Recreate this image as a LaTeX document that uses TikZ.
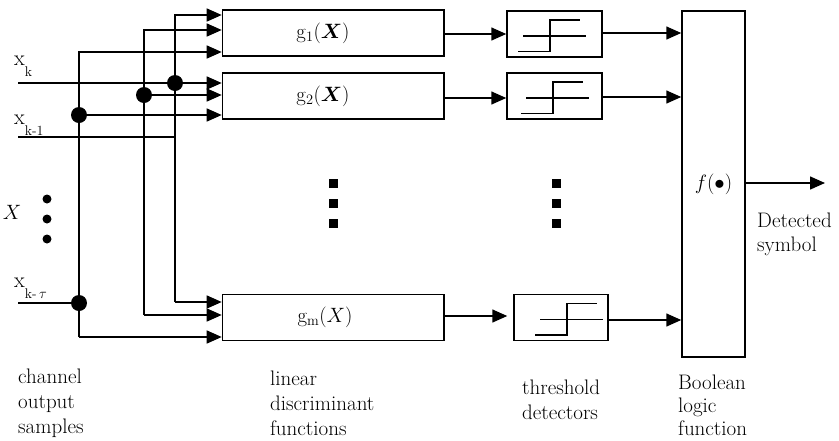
\documentclass[tikz,border=0pt]{standalone}
\usepackage{amsmath}
\usetikzlibrary{arrows.meta}

% subscripted sample label: a large x with a dropped, smaller index
\newcommand\samplelbl[1]{x\raisebox{-11pt}{\fontsize{14}{14}\selectfont #1}}

\begin{document}
\begin{tikzpicture}[x=1pt,y=-1pt,
  wire/.style={line width=1.5pt},
  arr/.style={wire,-{Triangle[length=15pt,width=13pt]}},
  blk/.style={draw,line width=1.5pt,minimum height=46pt,inner sep=0pt},
  gbox/.style={blk,minimum width=221.5pt},
  tbox/.style={blk,minimum width=95pt},
  junc/.style={circle,fill,inner sep=0pt,minimum size=16pt},
  lbl/.style={font=\fontsize{20}{25}\selectfont,inner sep=0pt},
  captext/.style={font=\fontsize{21}{25}\selectfont,inner sep=0pt,align=left,anchor=west},
  stepfn/.pic={
    \draw[line width=1.4pt] (-32,17.5) -- (0,17.5) -- (0,-14) -- (30,-14);
    \draw[line width=1.4pt] (-27,2) -- (36,2);
  }
]
\fill[white] (0,0) rectangle (839,440);
\useasboundingbox (0,0) rectangle (839,440);

% discriminant blocks
\node[gbox] (g1) at (333.2,33) {};
\node[gbox] (g2) at (333.2,96) {};
\node[gbox] (gm) at (333.2,317.5) {};
\node[lbl] (g1t) at (323,33) {$\mathrm{g}_1(\boldsymbol{X})$};
\node[lbl] (g2t) at (323,96) {$\mathrm{g}_2(\boldsymbol{X})$};
\node[lbl] (gmt) at (325,317.5) {$\mathrm{g}_{\mathrm{m}}(X)$};

% threshold detectors
\node[tbox] (t1) at (554.5,34) {};
\node[tbox] (t2) at (554.5,96) {};
\node[tbox,minimum width=94pt] (tm) at (561,317.5) {};
\pic at ([xshift=-4.5pt]t1.center) {stepfn};
\pic at ([xshift=-1.5pt]t2.center) {stepfn};
\pic at ([xshift=6pt]tm.center) {stepfn};

% Boolean logic block
\node[blk,minimum width=63pt,minimum height=346pt,font=\fontsize{20}{25}\selectfont]
  (f) at (713.5,184) {$f(\bullet)$};

% input sample lines and labels
\coordinate (ink)   at (18,83);
\coordinate (inkm1) at (18,137);
\coordinate (inkt)  at (18,303);
\node[lbl,font=\fontsize{22}{25}\selectfont,anchor=base west] (lk)   at (14,65)  {\samplelbl{k}};
\node[lbl,font=\fontsize{22}{25}\selectfont,anchor=base west] (lkm1) at (14,124) {\samplelbl{k-1}};
\node[lbl,font=\fontsize{22}{25}\selectfont,anchor=base west] (lkt)  at (14,287) {\samplelbl{k-\,$\tau$}};
\node[lbl] (lX) at (12,212) {$X$};

% bus coordinates
\coordinate (v1top) at (175,15);  \coordinate (v1bot) at (175,302);
\coordinate (v2top) at (144,30);  \coordinate (v2bot) at (144,315);
\coordinate (v3top) at (79,52);   \coordinate (v3bot) at (79,337);

% junction dots
\node[junc] (j1) at (175,83) {};
\node[junc] (j2) at (144,95) {};
\node[junc] (j3) at (79,115) {};
\node[junc] (j4) at (79,303) {};

% distribution buses
\draw[arr] (v1bot) -- (v1top) -- (v1top -| g1.west);
\draw[arr] (v1bot) -- (v1bot -| gm.west);
\draw[arr] (v2bot) -- (v2top) -- (v2top -| g1.west);
\draw[arr] (v2bot) -- (v2bot -| gm.west);
\draw[arr] (v3bot) -- (v3top) -- (v3top -| g1.west);
\draw[arr] (v3bot) -- (v3bot -| gm.west);

\draw[wire] (ink) -- (j1.center);
\draw[arr] (j1.center) -- (j1 -| g2.west);
\draw[arr] (j2.center) -- (j2 -| g2.west);
\draw[arr] (j3.center) -- (j3 -| g2.west);
\draw[wire] (inkm1) -- (inkm1 -| v1top);
\draw[wire] (inkt) -- (j4.center);

% discriminant outputs to detectors
\draw[arr] (g1.east |- t1.west) -- (t1.west);
\draw[arr] (g2.east |- 0,98) -- (t2.west |- 0,98);
\draw[arr,shorten >=6pt] (gm.east |- 0,316) -- (tm.west |- 0,316);

% detector outputs to the logic block
\draw[arr] (t1.east |- 0,33) -- (f.west |- 0,33);
\draw[arr] (t2.east |- 0,97) -- (f.west |- 0,97);
\draw[arr] (tm.east |- 0,320) -- (f.west |- 0,320);

% logic output
\coordinate (out) at (825,183);
\draw[arr] (f.east |- out) -- (out);

% ellipsis dots
\foreach \yy in {199,219,239} \fill (47,\yy) circle (4.5pt);
\foreach \yy in {183,203,223} {
  \fill (328.5,\yy-4.5) rectangle (337.5,\yy+4.5);
  \fill (551.5,\yy-4.5) rectangle (560.5,\yy+4.5);
}

% captions
\node[captext] (c1) at (18,403)  {channel\\output\\samples};
\node[captext] (c2) at (270,403) {linear\\discriminant\\functions};
\node[captext] (c3) at (522,400) {threshold\\detectors};
\node[captext,font=\fontsize{21}{23}\selectfont] (c4) at (678,405) {Boolean\\logic\\function};
\node[captext,font=\fontsize{21}{24}\selectfont] (c5) at (757,234) {Detected\\symbol};
\end{tikzpicture}
\end{document}
